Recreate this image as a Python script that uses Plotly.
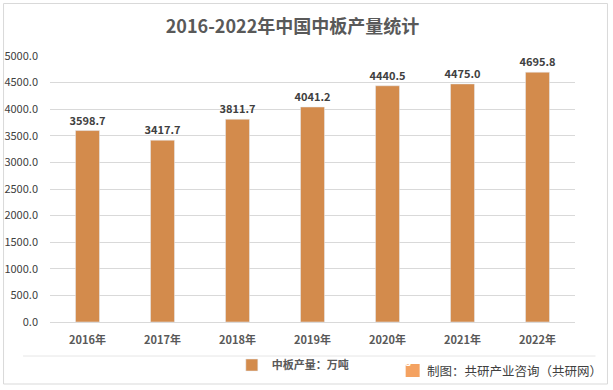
import plotly.graph_objects as go

years = ["2016年", "2017年", "2018年", "2019年", "2020年", "2021年", "2022年"]
output = [3598.7, 3417.7, 3811.7, 4041.2, 4440.5, 4475.0, 4695.8]
y_ticks = [0, 500, 1000, 1500, 2000, 2500, 3000, 3500, 4000, 4500, 5000]

W, H = 613, 390
L = 50
T = 56
R = W - 575.5
B = H - 322
pw, ph = W - L - R, H - T - B

def px(x):
    return (x - L) / pw

def py(y):
    return (H - B - y) / ph

FONT = "Noto Sans CJK SC, Liberation Sans, sans-serif"
BAR = "#D38B4C"

fig = go.Figure()
fig.add_trace(go.Bar(
    x=years, y=output, name="<b>中板产量：万吨</b>",
    marker_color=BAR, width=0.32,
    text=[f"<b>{v:.1f}</b>" for v in output], textposition="outside",
    textfont=dict(size=11, color="#404040", family=FONT),
    cliponaxis=False, constraintext="none",
))

fig.update_layout(
    width=W, height=H,
    margin=dict(l=L, r=R, t=T, b=B, autoexpand=False),
    paper_bgcolor="white", plot_bgcolor="white",
    font=dict(family=FONT, color="#595959", size=11),
    title=dict(text="<b>2016-2022年中国中板产量统计</b>", x=292.5 / W, xanchor="center",
               y=1 - 27 / H, yanchor="middle",
               font=dict(size=18, color="#595959", family=FONT)),
    xaxis=dict(showgrid=False, showline=True, linecolor="#D9D9D9", linewidth=1,
               ticks="", tickfont=dict(size=11, color="#595959", family=FONT),
               tickprefix="<b>", ticksuffix="</b>",
               ticklabelstandoff=8, automargin=False),
    yaxis=dict(range=[0, 5000], tickvals=y_ticks, ticktext=[f"{v:.1f}" for v in y_ticks],
               showgrid=True, gridcolor="#D9D9D9", gridwidth=1, zeroline=False,
               showline=False, ticks="", tickfont=dict(size=11, color="#404040", family=FONT),
               ticklabelstandoff=11, automargin=False),
    showlegend=True,
    legend=dict(orientation="h", x=px(232), xanchor="left", y=py(365), yanchor="middle",
                font=dict(size=11, color="#595959", family=FONT),
                bgcolor="rgba(0,0,0,0)", itemwidth=30),
    bargap=0.68,
)

# outer border
fig.add_shape(type="rect", xref="paper", yref="paper",
              x0=px(3.5), x1=px(608), y0=py(384), y1=py(3.5),
              line=dict(color="#D9D9D9", width=1), fillcolor="rgba(0,0,0,0)", layer="below")
# separator line
fig.add_shape(type="line", xref="paper", yref="paper",
              x0=px(23), x1=px(596), y0=py(356), y1=py(356),
              line=dict(color="#E6E6E6", width=1))
# logo
fig.add_shape(type="rect", xref="paper", yref="paper",
              x0=px(406), x1=px(420), y0=py(377), y1=py(364),
              line=dict(width=0), fillcolor="#F4A261")
fig.add_annotation(xref="paper", yref="paper", x=px(413), y=py(370.5),
                   text="<b>G</b>", showarrow=False,
                   font=dict(size=10, color="white", family=FONT))
fig.add_annotation(xref="paper", yref="paper", x=px(605), y=py(370),
                   xanchor="right", yanchor="middle",
                   text="制图：共研产业咨询（共研网）", showarrow=False,
                   font=dict(size=12.5, color="#404040", family=FONT))

fig.write_html("out.html", config={"displayModeBar": False},
               post_script="document.body.style.margin='0';document.body.style.overflow='hidden';")
